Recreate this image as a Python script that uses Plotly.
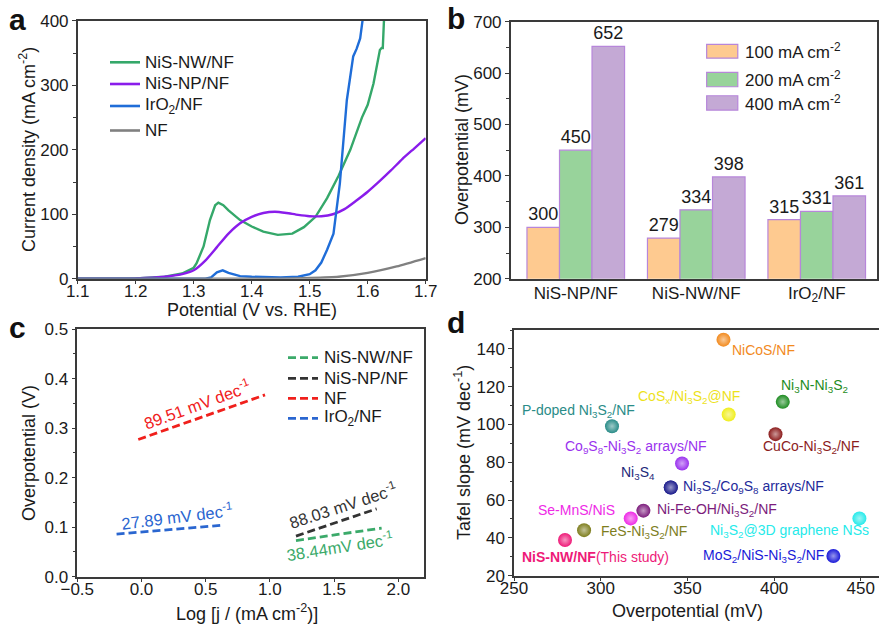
import plotly.graph_objects as go

W, H = 879, 626
FONT = "Arial, Liberation Sans, sans-serif"
TXT = "#1a1a1a"
AX = "#3a3a3a"

# ---------------- Panel a: LSV curves ----------------
nw_v = [1.10, 1.20, 1.25, 1.28, 1.30, 1.305, 1.317, 1.328, 1.337, 1.3425, 1.351, 1.36, 1.38, 1.40, 1.42,
        1.445, 1.47, 1.49, 1.51, 1.53, 1.55, 1.57, 1.59, 1.60, 1.61, 1.616, 1.621, 1.624, 1.626, 1.628, 1.63]
nw_j = [0, 0.5, 3, 8, 17, 24, 50, 91, 114, 118, 114, 106, 91, 81, 73,
        68, 70, 80, 96, 125, 160, 200, 250, 270, 303, 330, 355, 358, 358, 400, 420]
np_v = [1.10, 1.20, 1.25, 1.28, 1.30, 1.32, 1.34, 1.36, 1.38, 1.40, 1.42, 1.44, 1.46, 1.48, 1.50,
        1.52, 1.54, 1.56, 1.58, 1.60, 1.62, 1.64, 1.66, 1.68, 1.70]
np_j = [0, 0.5, 3, 7, 13, 28, 49, 70, 86, 96, 102, 104, 102, 99, 97,
        97, 100, 108, 121, 135, 151, 168, 186, 202, 218]
ir_v = [1.10, 1.32, 1.33, 1.34, 1.35, 1.36, 1.38, 1.40, 1.45, 1.48, 1.50, 1.51, 1.52, 1.53, 1.541,
        1.552, 1.564, 1.575, 1.581, 1.587, 1.591, 1.593]
ir_j = [0, 0, 2, 10, 13, 9, 4, 3, 2, 3, 7, 13, 25, 45, 70,
        148, 277, 345, 357, 373, 400, 420]
nf_v = [1.10, 1.45, 1.50, 1.55, 1.60, 1.65, 1.70]
nf_j = [0, 0, 1, 3, 9, 19, 32]
a_names = ["NiS-NW/NF", "NiS-NP/NF", "IrO<sub>2</sub>/NF", "NF"]

# ---------------- Panel b: overpotential bars ----------------
b_categories = ["NiS-NP/NF", "NiS-NW/NF", "IrO<sub>2</sub>/NF"]
b_series = ["100 mA cm<sup>-2</sup>", "200 mA cm<sup>-2</sup>", "400 mA cm<sup>-2</sup>"]
b_100 = [300, 279, 315]
b_200 = [450, 334, 331]
b_400 = [652, 398, 361]

# ---------------- Panel c: Tafel fits ----------------
c_nw_x = [1.203, 1.870]
c_nw_y = [0.073, 0.098]
c_np_x = [1.203, 1.831]
c_np_y = [0.082, 0.137]
c_nf_x = [-0.025, 0.962]
c_nf_y = [0.277, 0.367]
c_ir_x = [-0.194, 0.632]
c_ir_y = [0.086, 0.104]
c_names = ["NiS-NW/NF", "NiS-NP/NF", "NF", "IrO<sub>2</sub>/NF"]
c_slopes = ["38.44mV dec<sup>-1</sup>", "88.03 mV dec<sup>-1</sup>",
            "89.51 mV dec<sup>-1</sup>", "27.89 mV dec<sup>-1</sup>"]

# ---------------- Panel d: comparison scatter ----------------
d_names = ["NiCoS/NF", "Ni<sub>3</sub>N-Ni<sub>3</sub>S<sub>2</sub>",
           "CoS<sub>x</sub>/Ni<sub>3</sub>S<sub>2</sub>@NF", "P-doped Ni<sub>3</sub>S<sub>2</sub>/NF",
           "CuCo-Ni<sub>3</sub>S<sub>2</sub>/NF", "Co<sub>9</sub>S<sub>8</sub>-Ni<sub>3</sub>S<sub>2</sub> arrays/NF",
           "Ni<sub>3</sub>S<sub>4</sub>", "Ni<sub>3</sub>S<sub>2</sub>/Co<sub>9</sub>S<sub>8</sub> arrays/NF",
           "Ni-Fe-OH/Ni<sub>3</sub>S<sub>2</sub>/NF", "Se-MnS/NiS",
           "FeS-Ni<sub>3</sub>S<sub>2</sub>/NF", "<b>NiS-NW/NF</b>(This study)",
           "Ni<sub>3</sub>S<sub>2</sub>@3D graphene NSs", "MoS<sub>2</sub>/NiS-Ni<sub>3</sub>S<sub>2</sub>/NF"]
d_x = [370.8, 405.0, 373.8, 306.5, 400.8, 346.9, 340.4, 340.4, 324.6, 317.3, 290.4, 279.4, 449.2, 434.2]
d_y = [144.9, 112.0, 105.3, 99.1, 94.9, 79.4, 66.7, 66.7, 54.4, 50.3, 44.1, 38.9, 50.3, 30.4]
d_colors = ["#F28A1E", "#1E8C22", "#F0EE1C", "#2A8C88", "#8C1C1C", "#9A32EE", "#1C1C8C", "#1C1C8C",
            "#7C1C7C", "#EE2AE6", "#7E7E1E", "#EE1A78", "#26EAEA", "#1A1AD8"]
d_text_colors = ["#F28A1E", "#1E8C22", "#EDE21A", "#2A8C88", "#8C1C1C", "#9A32EE", "#1E2A7A", "#1E2A9A",
                 "#7C1C7C", "#EE2AE6", "#7E7E1E", "#EE1A78", "#26EAEA", "#1A1AD8"]
# label placement style: (xanchor, xshift, yshift)
d_label_style = [("left", 7, -10), ("center", 32, 16), ("right", 13, 17), ("right", 25, 15),
                 ("left", -14, -13), ("right", 27, 16), ("right", -14, 14), ("left", 10, 0),
                 ("left", 12, 1), ("right", -14, 8), ("left", 15, -2), ("left", -45, -17),
                 ("right", 12, -13), ("right", -7, 0)]


def lighten(hexc, f=0.6):
    h = hexc.lstrip("#")
    r, g, b = int(h[0:2], 16), int(h[2:4], 16), int(h[4:6], 16)
    r = int(r + (255 - r) * f); g = int(g + (255 - g) * f); b = int(b + (255 - b) * f)
    return "#%02X%02X%02X" % (r, g, b)


def P(px, py):
    return px / W, 1 - py / H


fig = go.Figure()
annotations = []
shapes = []

# Panel a traces
line_w = 2.4
a_cols = ["#35A86A", "#8A1CEB", "#1F6DD8", "#808080"]
a_shapes = ["linear", "spline", "linear", "spline"]
for nm, xs, ys, col, shp in zip(a_names, [nw_v, np_v, ir_v, nf_v], [nw_j, np_j, ir_j, nf_j], a_cols, a_shapes):
    fig.add_trace(go.Scatter(x=xs, y=ys, mode="lines", name=nm, showlegend=False,
                             line=dict(color=col, width=line_w, shape=shp, smoothing=0.6),
                             xaxis="x", yaxis="y"))

# custom legend a
for nm, col, py in zip(a_names, a_cols, [62.3, 84.0, 106.0, 130.5]):
    x0, y0 = P(110, py)
    x1, _ = P(140, py)
    shapes.append(dict(type="line", xref="paper", yref="paper", x0=x0, x1=x1, y0=y0, y1=y0,
                       line=dict(color=col, width=2.6)))
    tx, _ = P(143, py)
    annotations.append(dict(text=nm, xref="paper", yref="paper", x=tx, y=y0, xanchor="left", yanchor="middle",
                            showarrow=False, font=dict(size=17, color=TXT, family=FONT)))

# Panel b traces
b_fill = ["#FECA90", "#98D39B", "#C4A9D5"]
for name, vals, col in zip(b_series, [b_100, b_200, b_400], b_fill):
    fig.add_trace(go.Bar(x=list(range(len(b_categories))), y=vals, name=name, marker=dict(color=col, line=dict(color="#B786DA", width=1.2)),
                         text=[str(v) for v in vals], textposition="outside", cliponaxis=False,
                         textfont=dict(size=18, color=TXT, family=FONT),
                         xaxis="x2", yaxis="y2", showlegend=False))

# b legend (custom swatches)
sw_y = [(0.858, 0.912), (0.747, 0.803), (0.656, 0.712)]
txt_y = [0.886, 0.777, 0.684]
for (y0, y1), ty, col, nm in zip(sw_y, txt_y, b_fill, b_series):
    shapes.append(dict(type="rect", xref="x2 domain", yref="y2 domain", x0=0.535, x1=0.620, y0=y0, y1=y1,
                       fillcolor=col, line=dict(color="#B786DA", width=1.2)))
    annotations.append(dict(text=nm, xref="x2 domain", yref="y2 domain", x=0.633, y=ty, xanchor="left",
                            yanchor="middle", showarrow=False, font=dict(size=17, color=TXT, family=FONT)))

# Panel c traces
c_cols = ["#3BAA6A", "#333333", "#F0201C", "#2A66D0"]
DASH = "8px,4px"
for nm, xs, ys, col in zip(c_names, [c_nw_x, c_np_x, c_nf_x, c_ir_x], [c_nw_y, c_np_y, c_nf_y, c_ir_y], c_cols):
    fig.add_trace(go.Scatter(x=xs, y=ys, mode="lines", name=nm, showlegend=False,
                             line=dict(color=col, width=2.8, dash=DASH), xaxis="x3", yaxis="y3"))

# custom legend c
for nm, col, py in zip(c_names, c_cols, [357.7, 378.3, 398.3, 418.3]):
    x0, y0 = P(288, py)
    x1, _ = P(318, py)
    shapes.append(dict(type="line", xref="paper", yref="paper", x0=x0, x1=x1, y0=y0, y1=y0,
                       line=dict(color=col, width=2.8, dash=DASH)))
    tx, _ = P(322, py)
    annotations.append(dict(text=nm, xref="paper", yref="paper", x=tx, y=y0, xanchor="left", yanchor="middle",
                            showarrow=False, font=dict(size=17, color=TXT, family=FONT)))

# c slope labels
c_lab_pos = [(1.546, 0.061, -9), (1.569, 0.144, -18), (0.432, 0.348, -20), (0.276, 0.123, -7)]
for txt, col, (xv, yv, ang) in zip(c_slopes, c_cols, c_lab_pos):
    annotations.append(dict(text=txt, x=xv, y=yv, xref="x3", yref="y3", showarrow=False, textangle=ang,
                            font=dict(size=16.5, color=col, family=FONT)))

# Panel d trace
fig.add_trace(go.Scatter(x=d_x, y=d_y, mode="markers", showlegend=False,
                         marker=dict(size=14, color=d_colors, line=dict(width=0),
                                     gradient=dict(type="radial", color=[lighten(c, 0.55) for c in d_colors])),
                         xaxis="x4", yaxis="y4"))

for nm, xv, yv, tc, (xa, xs, ys) in zip(d_names, d_x, d_y, d_text_colors, d_label_style):
    annotations.append(dict(text=nm, x=xv, y=yv, xref="x4", yref="y4", showarrow=False, xanchor=xa, yanchor="middle",
                            xshift=xs, yshift=ys, font=dict(size=14, color=tc, family=FONT)))

# axis titles
titles = [
    ("Potential (V vs. RHE)", 252, 310, 0),
    ("Current density (mA cm<sup>-2</sup>)", 27, 150, -90),
    ("Overpotential (mV)", 462, 150, -90),
    ("Log [j / (mA cm<sup>-2</sup>)]", 247, 612, 0),
    ("Overpotential (V)", 29, 453, -90),
    ("Overpotential (mV)", 687, 611, 0),
    ("Tafel slope (mV dec<sup>-1</sup>)", 462, 453, -90),
]
for t, px, py, ang in titles:
    x, y = P(px, py)
    annotations.append(dict(text=t, x=x, y=y, xref="paper", yref="paper", showarrow=False, textangle=ang,
                            xanchor="center", yanchor="middle", font=dict(size=18, color=TXT, family=FONT)))

# panel letters
for t, px, py in [("a", 17, 20), ("b", 456, 18), ("c", 17, 327), ("d", 456, 322)]:
    x, y = P(px, py)
    annotations.append(dict(text="<b>%s</b>" % t, x=x, y=y, xref="paper", yref="paper", showarrow=False,
                            xanchor="center", yanchor="middle", font=dict(size=30, color="#111", family=FONT)))


def axis(domain, rng, anchor, **kw):
    d = dict(domain=domain, range=rng, anchor=anchor, showline=True, linecolor=AX, linewidth=1.5, mirror=True,
             ticks="outside", ticklen=4, tickwidth=1.3, tickcolor=AX, showgrid=False, zeroline=False,
             automargin=False, tickfont=dict(size=17, color=TXT, family=FONT))
    d.update(kw)
    return d


minor = lambda dt: dict(ticks="outside", ticklen=2.5, tickwidth=1.1, tickcolor=AX, dtick=dt, showgrid=False)

fig.update_layout(
    width=W, height=H, margin=dict(l=0, r=0, t=0, b=0, autoexpand=False), paper_bgcolor="white", plot_bgcolor="white",
    font=dict(family=FONT, color=TXT), showlegend=False,
    barmode="group", bargap=0.19, bargroupgap=0,
    xaxis=axis([0.0884, 0.4843], [1.1, 1.7], "y", dtick=0.1, tick0=1.1, tickformat=".1f", ticklabelstandoff=-8),
    yaxis=axis([0.5548, 0.9665], [0, 400], "x", dtick=100, minor=minor(50)),
    xaxis2=axis([0.581, 0.9977], [-0.54, 2.5], "y2", tickvals=[0, 1, 2], ticktext=b_categories, ticks="",
                ticklabelstandoff=-2),
    yaxis2=axis([0.5548, 0.9653], [200, 700], "x2", dtick=100, minor=minor(50)),
    xaxis3=axis([0.0879, 0.4824], [-0.5, 2.2], "y3", dtick=0.5, tick0=-0.5, tickformat=".1f", ticklabelstandoff=-8),
    yaxis3=axis([0.0788, 0.4744], [0, 0.5], "x3", dtick=0.1, tickformat=".1f", minor=minor(0.05)),
    xaxis4=axis([0.5848, 1.0], [250, 460.5], "y4", dtick=50, tick0=250, ticklabelstandoff=-8),
    yaxis4=axis([0.0804, 0.4728], [20, 150], "x4", dtick=20, tick0=20, minor=minor(10)),
    annotations=annotations, shapes=shapes,
)

fig.write_html("out.html")
